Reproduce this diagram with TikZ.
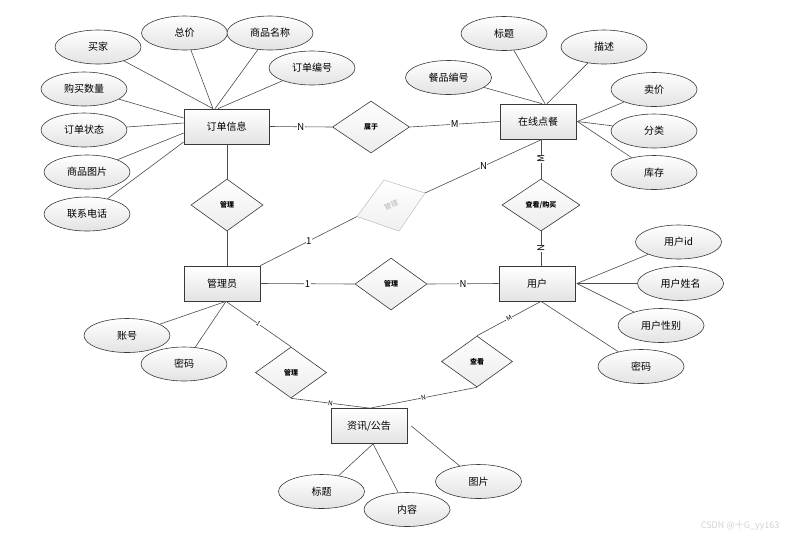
\documentclass[tikz,border=0pt]{standalone}
\usepackage{fontspec}
\setmainfont{Noto Sans CJK SC}
\usetikzlibrary{shapes.geometric,calc}
\begin{document}
\begin{tikzpicture}[x=1pt,y=-1pt,
 line/.style={draw=gray!60!black, line width=0.6pt},
 attr/.style={ellipse, draw=gray!45!black, line width=0.6pt, top color=white, bottom color=gray!22, minimum width=86pt, minimum height=34pt, inner sep=0pt, font=\fontsize{10}{12}\selectfont},
 ent/.style={rectangle, draw=gray!45!black, line width=0.7pt, top color=white, bottom color=gray!22, minimum width=76pt, minimum height=35pt, inner sep=0pt, font=\fontsize{10}{12}\selectfont},
 rel/.style={diamond, draw=gray!45!black, line width=0.6pt, top color=white, bottom color=gray!15, minimum width=72pt, minimum height=52pt, inner sep=0pt, font=\fontsize{7}{8}\selectfont\bfseries},
 lab/.style={fill=white, inner sep=0.5pt, font=\fontsize{9.5}{10}\selectfont},
 slab/.style={fill=white, inner sep=0.3pt, font=\fontsize{6.5}{7}\selectfont},
]
\useasboundingbox (0,0) rectangle (786,539);

% entities
\node[ent, minimum width=85pt] (ord) at (226.5,126.5) {订单信息};
\node[ent] (can) at (538,121.5) {在线点餐};
\node[ent] (adm) at (222,283.5) {管理员};
\node[ent] (usr) at (537,283.5) {用户};
\node[ent] (news) at (369,426) {资讯/公告};

% relationships
\node[rel, minimum width=77pt] (r1) at (371,127) {属于};
\node[rel] (r2) at (227,205) {管理};
\node[rel, minimum width=78pt] (r4) at (541,205) {查看/购买};
\node[rel] (r5) at (391,284) {管理};
\node[rel, minimum width=71pt, minimum height=51pt] (r6) at (291,372.5) {管理};
\node[rel, minimum width=71pt, minimum height=51pt] (r7) at (477,361.5) {查看};

% faded skewed diamond
\coordinate (g1) at (357,216.5);
\coordinate (g2) at (384,180);
\coordinate (g3) at (425,193);
\coordinate (g4) at (399,231);
\fill[top color=white, bottom color=gray!12, draw=gray!35, line width=0.5pt] (g1) -- (g2) -- (g3) -- (g4) -- cycle;
\node[rotate=22, text=gray!60, inner sep=0pt, font=\fontsize{7}{8}\selectfont] (gr) at (391,205) {管理};

% attributes of 订单信息
\node[attr] (a1) at (98,47) {买家};
\node[attr] (a2) at (184.5,33) {总价};
\node[attr] (a3) at (270,33) {商品名称};
\node[attr] (a4) at (312,68) {订单编号};
\node[attr] (a5) at (84,89) {购买数量};
\node[attr] (a6) at (84,130) {订单状态};
\node[attr] (a7) at (87,172) {商品图片};
\node[attr] (a8) at (87,214) {联系电话};

% attributes of 在线点餐
\node[attr] (b1) at (504,33.5) {标题};
\node[attr] (b2) at (604,47) {描述};
\node[attr] (b3) at (448.5,77.5) {餐品编号};
\node[attr] (b4) at (654,89.5) {卖价};
\node[attr] (b5) at (654,131) {分类};
\node[attr] (b6) at (654,172.5) {库存};

% attributes of 管理员
\node[attr] (c1) at (127,335.5) {账号};
\node[attr] (c2) at (184,364) {密码};

% attributes of 用户
\node[attr] (d1) at (678.5,242) {用户id};
\node[attr] (d2) at (680.5,283.5) {用户姓名};
\node[attr] (d3) at (661,325.5) {用户性别};
\node[attr] (d4) at (641,366.5) {密码};

% attributes of 资讯/公告
\node[attr] (e1) at (321.5,491.5) {标题};
\node[attr] (e2) at (407,509.5) {内容};
\node[attr] (e3) at (478.5,481.5) {图片};

% anchor points
\coordinate (ordT1) at ($(ord.north)+(-13.5,0)$);
\coordinate (ordT2) at ($(ord.north)+(-11.5,0)$);
\coordinate (ordT3) at ($(ord.north)+(-8.5,0)$);
\coordinate (ordL1) at ($(ord.west)+(0,-8.5)$);
\coordinate (ordL2) at ($(ord.west)+(0,-3.5)$);
\coordinate (ordL3) at ($(ord.west)+(0,6.5)$);
\coordinate (ordL4) at ($(ord.west)+(0,15.5)$);
\coordinate (canT1) at ($(can.north)+(4,0)$);
\coordinate (canT2) at ($(can.north)+(7,0)$);
\coordinate (canT3) at ($(can.north)+(9,0)$);
\coordinate (canR) at ($(can.east)+(1,0)$);
\coordinate (canB) at ($(can.south)+(4,0)$);
\coordinate (admB) at ($(adm.south)+(4,0)$);
\coordinate (usrR) at ($(usr.east)+(1.5,0)$);
\coordinate (usrB) at ($(usr.south)+(4,0)$);
\coordinate (newsT) at ($(news.north)+(1,0)$);
\coordinate (newsB) at ($(news.south)+(4,0)$);
\coordinate (newsR) at ($(news.east)+(4,0)$);

% attribute connectors
\draw[line] (a1) -- (ordT1);
\draw[line] (a2) -- (ordT1);
\draw[line] (a3) -- (ordT2);
\draw[line] (a4) -- (ordT3);
\draw[line] (a5) -- (ordL1);
\draw[line] (a6) -- (ordL2);
\draw[line] (a7) -- (ordL3);
\draw[line] (a8) -- (ordL4);

\draw[line] (b1) -- (canT2);
\draw[line] (b2) -- (canT3);
\draw[line] (b3) -- (canT1);
\draw[line] (b4) -- (canR);
\draw[line] (b5) -- (canR);
\draw[line] (b6) -- (canR);

\draw[line] (c1) -- (admB);
\draw[line] (c2) -- (admB);

\draw[line] (d1) -- (usrR);
\draw[line] (d2) -- (usrR);
\draw[line] (d3) -- (usrR);
\draw[line] (d4) -- (usrB);

\draw[line] (e1) -- (newsB);
\draw[line] (e2) -- (newsB);
\draw[line] (e3) -- (newsR);

% relationship connectors
\draw[line] (ord.east) -- node[lab] {N} (r1.west);
\draw[line] (r1.east) -- node[lab] {M} (can.west);
\draw[line] (r2.north) -- (r2.north |- ord.south);
\draw[line] (r2.south) -- (r2.south |- adm.north);
\draw[line] (adm.north east) -- node[lab] {1} (g1);
\draw[line] (g3) -- node[lab] {N} (canB);
\draw[line] (r4.north) -- node[lab, rotate=90] {M} (r4.north |- can.south);
\draw[line] (r4.south) -- node[lab, rotate=90] {N} (r4.south |- usr.north);
\draw[line] (adm.east) -- node[lab] {1} (r5.west);
\draw[line] (r5.east) -- node[lab] {N} (usr.west);
\draw[line] (admB) -- node[slab, sloped] {1} (r6.north);
\draw[line] (r6.south) -- node[slab, sloped] {N} (newsT);
\draw[line] (usrB) -- node[slab, sloped] {M} (r7.north);
\draw[line] (r7.south) -- node[slab, sloped] {N} (newsT);

% watermark
\node[text=gray!35, font=\fontsize{9}{10}\selectfont, anchor=east] (wm) at (783,526) {CSDN @十G\_yy163};
\end{tikzpicture}
\end{document}
